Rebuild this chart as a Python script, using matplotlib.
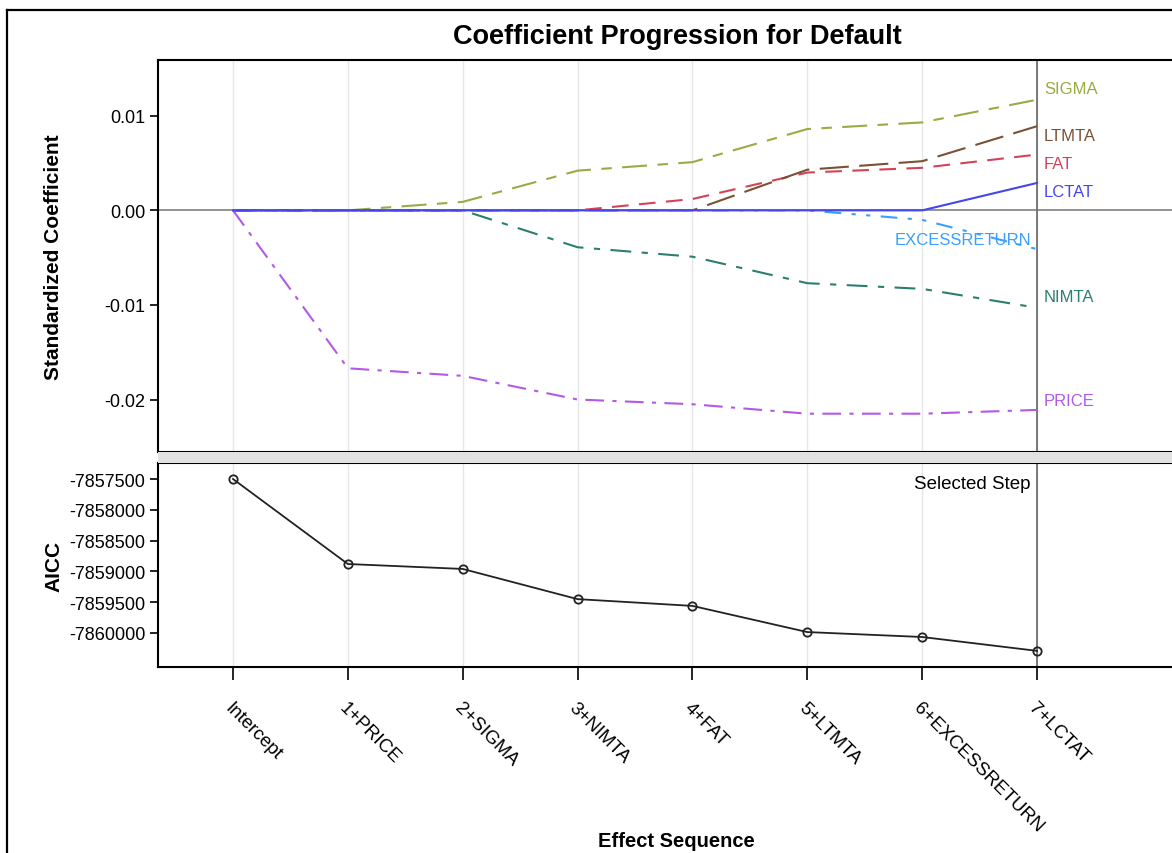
import matplotlib
matplotlib.use("Agg")
import matplotlib.pyplot as plt
from matplotlib.lines import Line2D
from matplotlib.patches import Rectangle
from matplotlib.ticker import FixedLocator, FuncFormatter

plt.rcParams['font.family'] = ['Liberation Sans', 'DejaVu Sans']
plt.rcParams['axes.unicode_minus'] = False

# ---------------- data ----------------
steps = ['Intercept', '1+PRICE', '2+SIGMA', '3+NIMTA', '4+FAT',
         '5+LTMTA', '6+EXCESSRETURN', '7+LCTAT']
price = [0.0, -0.0167, -0.0175, -0.0200, -0.0205, -0.0215, -0.0215, -0.0211]
sigma = [0.0, 0.0, 0.0009, 0.0042, 0.0051, 0.0086, 0.0093, 0.0117]
nimta = [0.0, 0.0, 0.0, -0.0039, -0.0049, -0.0077, -0.0083, -0.0103]
fat = [0.0, 0.0, 0.0, 0.0, 0.0012, 0.0040, 0.0045, 0.0059]
ltmta = [0.0, 0.0, 0.0, 0.0, 0.0, 0.0043, 0.0052, 0.0089]
excessreturn = [0.0, 0.0, 0.0, 0.0, 0.0, 0.0, -0.0010, -0.0041]
lctat = [0.0, 0.0, 0.0, 0.0, 0.0, 0.0, 0.0, 0.0029]
aicc = [-7857500, -7858880, -7858960, -7859450, -7859560, -7859985, -7860065, -7860290]
selected_step = 7
coef_ticks = [0.01, 0.00, -0.01, -0.02]
aicc_ticks = [-7857500, -7858000, -7858500, -7859000, -7859500, -7860000]

series = [
    ('PRICE', price, '#b25ae6', (0, (9, 4, 2, 4)), 6.5),
    ('SIGMA', sigma, '#9aab45', (0, (12, 5, 5, 5)), 8),
    ('NIMTA', nimta, '#2b7f70', (0, (10, 5, 3, 5)), 8),
    ('FAT', fat, '#d2435a', (0, (8, 5)), -6.5),
    ('LTMTA', ltmta, '#7a5233', (0, (14, 5)), -6.5),
    ('EXCESSRETURN', excessreturn, '#3aa0ff', (0, (2, 5, 2, 5, 8, 5)), 7),
    ('LCTAT', lctat, '#4646ec', '-', -6),
]

W, H = 1172, 854
fig = plt.figure(figsize=(W / 100, H / 100), dpi=100)

def fx(px):
    return px / W

def fy(py):
    return 1 - py / H

left = fx(158)
ax1 = fig.add_axes([left, fy(453), 1 - left, fy(61) - fy(453)])
ax2 = fig.add_axes([left, fy(668), 1 - left, fy(464) - fy(668)])

x = list(range(len(steps)))
xlim = (-0.653, 8.175)

# -------- top panel --------
for xi in x:
    ax1.axvline(xi, color='#e6e6e6', lw=1.0, zorder=0)
ax1.axhline(0, color='#808080', lw=1.2, zorder=1)
ax1.axvline(selected_step, color='#707070', lw=1.3, zorder=1)
for name, vals, col, ls, off in series:
    ax1.plot(x, vals, color=col, linestyle=ls, lw=1.5, zorder=3)
    if name == 'EXCESSRETURN':
        ax1.annotate(name, (x[-1], vals[-1]), xytext=(-4, off),
                     textcoords='offset points', ha='right', va='center',
                     color=col, fontsize=12)
    else:
        ax1.annotate(name, (x[-1], vals[-1]), xytext=(5, off),
                     textcoords='offset points', ha='left', va='center',
                     color=col, fontsize=12)
ax1.set_xlim(*xlim)
ax1.set_ylim(-0.02555, 0.0159)
ax1.yaxis.set_major_locator(FixedLocator(coef_ticks))
ax1.yaxis.set_major_formatter(FuncFormatter(lambda v, p: f'{v:.2f}'))
ax1.set_xticks([])
ax1.tick_params(axis='y', direction='out', length=6, width=1.2, labelsize=13, pad=3)
ax1.set_ylabel('Standardized Coefficient', fontsize=15, fontweight='bold')
ax1.spines['right'].set_visible(False)
for s in ['left', 'top', 'bottom']:
    ax1.spines[s].set_linewidth(1.5)

# -------- bottom panel --------
for xi in x:
    ax2.axvline(xi, color='#e6e6e6', lw=1.0, zorder=0)
ax2.axvline(selected_step, color='#707070', lw=1.3, zorder=1)
ax2.plot(x, aicc, color='#222222', lw=1.3, marker='o', markersize=6,
         markerfacecolor='none', markeredgecolor='#222222', markeredgewidth=1.3, zorder=3)
ax2.text(selected_step - 0.06, 0.90, 'Selected Step', transform=ax2.get_xaxis_transform(),
         ha='right', va='center', fontsize=13.5)
ax2.set_xlim(*xlim)
ax2.set_ylim(-7860552, -7857240)
ax2.yaxis.set_major_locator(FixedLocator(aicc_ticks))
ax2.yaxis.set_major_formatter(FuncFormatter(lambda v, p: f'{int(round(v))}'))
ax2.set_xticks(x)
ax2.set_xticklabels(steps, rotation=-45, ha='left', va='top', rotation_mode='anchor', fontsize=13.5)
ax2.tick_params(axis='x', direction='out', length=9, width=1.2, pad=14)
ax2.tick_params(axis='y', direction='out', length=6, width=1.2, labelsize=13, pad=3)
ax2.set_ylabel('AICC', fontsize=15, fontweight='bold')
ax2.spines['right'].set_visible(False)
for s in ['left', 'top', 'bottom']:
    ax2.spines[s].set_linewidth(1.5)

# separator band
fig.patches.append(Rectangle((left, fy(464)), 1 - left, fy(453) - fy(464),
                             transform=fig.transFigure, facecolor='#e2e2e2',
                             edgecolor='none', zorder=0))

# y labels at fixed horizontal position
ax1.yaxis.set_label_coords((63 - 158) / (W - 158), 0.5)
ax2.yaxis.set_label_coords((63 - 158) / (W - 158), 0.5)

# titles
fig.text(fx(677), fy(37), 'Coefficient Progression for Default', ha='center', va='center',
         fontsize=19.5, fontweight='bold')
fig.text(fx(676), fy(842), 'Effect Sequence', ha='center', va='center',
         fontsize=14.5, fontweight='bold')

# outer frame
fig.add_artist(Line2D([fx(7), fx(7)], [fy(11), 0], transform=fig.transFigure, color='black', lw=1.6))
fig.add_artist(Line2D([fx(7), 1], [fy(11), fy(11)], transform=fig.transFigure, color='black', lw=1.6))

fig.savefig('out.png', dpi=100)
